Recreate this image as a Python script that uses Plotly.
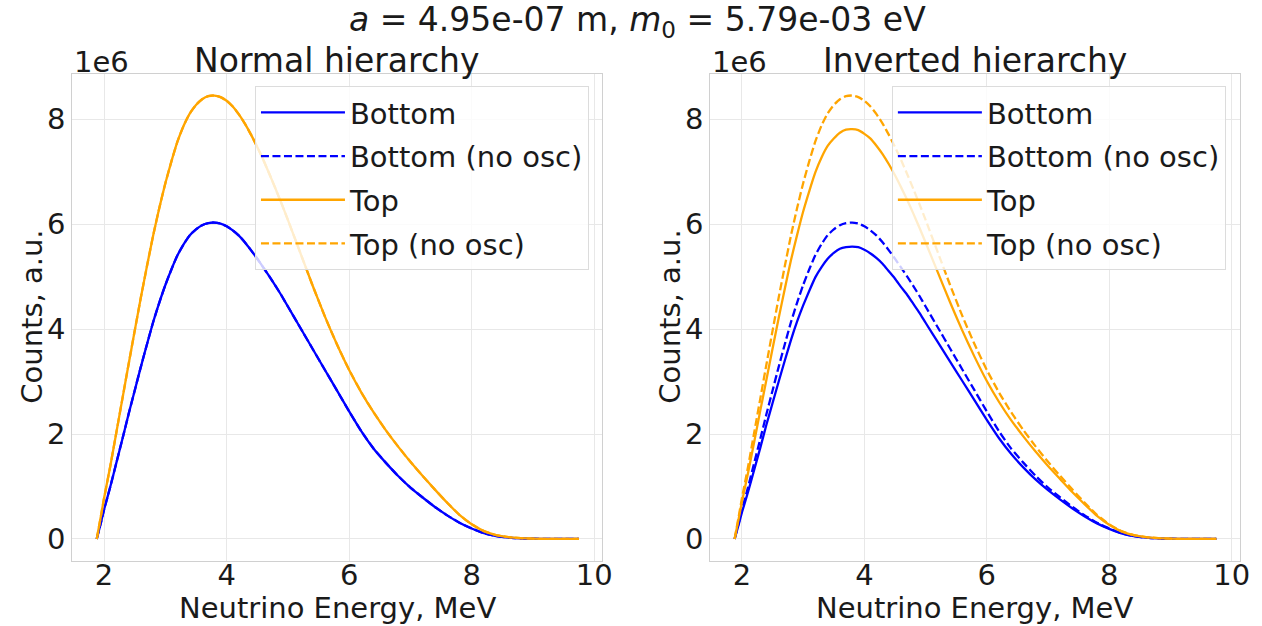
import plotly.graph_objects as go

# ---- data, counts in units of 1e6 ----
energy = [1.88, 1.95, 2.0,
          2.1, 2.2, 2.3, 2.4, 2.5, 2.6, 2.7, 2.8, 2.9, 3.0,
          3.1, 3.2, 3.3, 3.4, 3.5, 3.6, 3.7, 3.8, 3.9, 4.0,
          4.1, 4.2, 4.3, 4.4, 4.5, 4.6, 4.7, 4.8, 4.9, 5.0,
          5.2, 5.4, 5.6, 5.8, 6.0, 6.2, 6.4, 6.6, 6.8, 7.0,
          7.2, 7.4, 7.6, 7.8, 8.0, 8.2, 8.4, 8.6, 8.8, 9.0,
          9.25, 9.5, 9.75]

# no-oscillation spectra (same in both panels)
top_noosc = [0, 0.45, 0.78,
             1.38, 2.03, 2.68, 3.33, 3.97, 4.6, 5.2, 5.78, 6.3, 6.78,
             7.2, 7.58, 7.88, 8.11, 8.27, 8.38, 8.44, 8.45, 8.42, 8.35,
             8.24, 8.09, 7.91, 7.7, 7.47, 7.22, 6.95, 6.67, 6.38, 6.08,
             5.46, 4.84, 4.25, 3.71, 3.22, 2.79, 2.41, 2.07, 1.76, 1.47,
             1.2, 0.94, 0.69, 0.46, 0.28, 0.15, 0.075, 0.035, 0.015, 0.005,
             0.001, 0, 0]
bottom_noosc = [0, 0.32, 0.56,
                0.99, 1.45, 1.91, 2.38, 2.83, 3.28, 3.71, 4.13, 4.5, 4.84,
                5.14, 5.41, 5.62, 5.79, 5.9, 5.98, 6.02, 6.03, 6.01, 5.96,
                5.88, 5.78, 5.65, 5.5, 5.34, 5.17, 5.0, 4.82, 4.63, 4.43,
                4.03, 3.63, 3.23, 2.83, 2.43, 2.05, 1.72, 1.45, 1.2, 0.98,
                0.79, 0.61, 0.45, 0.31, 0.2, 0.11, 0.055, 0.025, 0.01, 0.004,
                0.001, 0, 0]

# normal hierarchy, oscillated (indistinguishable from no-osc in the picture)
nh_top = [0, 0.45, 0.78,
          1.38, 2.03, 2.68, 3.33, 3.97, 4.6, 5.2, 5.78, 6.3, 6.78,
          7.2, 7.58, 7.88, 8.11, 8.27, 8.38, 8.44, 8.45, 8.42, 8.35,
          8.24, 8.09, 7.91, 7.7, 7.47, 7.22, 6.95, 6.67, 6.38, 6.08,
          5.46, 4.84, 4.25, 3.71, 3.22, 2.79, 2.41, 2.07, 1.76, 1.47,
          1.2, 0.94, 0.69, 0.46, 0.28, 0.15, 0.075, 0.035, 0.015, 0.005,
          0.001, 0, 0]
nh_bottom = [0, 0.32, 0.56,
             0.99, 1.45, 1.91, 2.38, 2.83, 3.28, 3.71, 4.13, 4.5, 4.84,
             5.14, 5.41, 5.62, 5.79, 5.9, 5.98, 6.02, 6.03, 6.01, 5.96,
             5.88, 5.78, 5.65, 5.5, 5.34, 5.17, 5.0, 4.82, 4.63, 4.43,
             4.03, 3.63, 3.23, 2.83, 2.43, 2.05, 1.72, 1.45, 1.2, 0.98,
             0.79, 0.61, 0.45, 0.31, 0.2, 0.11, 0.055, 0.025, 0.01, 0.004,
             0.001, 0, 0]

# inverted hierarchy, oscillated
ih_top = [0, 0.41, 0.71,
          1.26, 1.85, 2.45, 3.04, 3.63, 4.21, 4.77, 5.31, 5.79, 6.24,
          6.63, 6.99, 7.27, 7.49, 7.63, 7.74, 7.8, 7.81, 7.79, 7.72,
          7.63, 7.49, 7.33, 7.14, 6.93, 6.7, 6.46, 6.2, 5.93, 5.65,
          5.08, 4.51, 3.97, 3.47, 3.01, 2.61, 2.26, 1.95, 1.66, 1.39,
          1.14, 0.89, 0.66, 0.44, 0.27, 0.144, 0.072, 0.034, 0.0146, 0.005,
          0.001, 0, 0]
ih_bottom = [0, 0.29, 0.51,
             0.9, 1.32, 1.74, 2.18, 2.59, 3.0, 3.4, 3.79, 4.14, 4.45,
             4.73, 4.99, 5.18, 5.34, 5.45, 5.53, 5.56, 5.57, 5.56, 5.51,
             5.44, 5.35, 5.24, 5.1, 4.96, 4.8, 4.65, 4.48, 4.31, 4.12,
             3.75, 3.38, 3.01, 2.64, 2.27, 1.92, 1.62, 1.36, 1.13, 0.93,
             0.75, 0.58, 0.43, 0.297, 0.192, 0.106, 0.053, 0.024, 0.0097, 0.0039,
             0.001, 0, 0]

scale = 1e6
y_ticks = [0, 2, 4, 6, 8]
x_ticks = [2, 4, 6, 8, 10]
panel_titles = ["Normal hierarchy", "Inverted hierarchy"]
suptitle = "<i>a</i> = 4.95e-07 m, <i>m</i><sub>0</sub> = 5.79e-03 eV"
x_label = "Neutrino Energy, MeV"
y_label = "Counts, a.u."
offset_label = "1e6"
names = ["Bottom", "Bottom (no osc)", "Top", "Top (no osc)"]

BLUE = "#0000ff"
ORANGE = "#ffa500"
FONT = "DejaVu Sans"
TXT = "#1a1a1a"
W, H = 1262, 626


def px_x(p):
    return p / W


def px_y(p):
    return (H - p) / H


fig = go.Figure()

panels = [
    (nh_bottom, bottom_noosc, nh_top, top_noosc, "x", "y", "legend", "L"),
    (ih_bottom, bottom_noosc, ih_top, top_noosc, "x2", "y2", "legend2", "R"),
]
DASH = "8px,3.5px"
for b, b0, t, t0, xa, ya, lg, tag in panels:
    series = [(b, BLUE, "solid"), (b0, BLUE, DASH),
              (t, ORANGE, "solid"), (t0, ORANGE, DASH)]
    for k, (name, (vals, col, dash)) in enumerate(zip(names, series)):
        fig.add_trace(go.Scatter(
            x=energy, y=[v * scale for v in vals], mode="lines", name=name,
            line=dict(color=col, width=2.3, dash=dash, shape="spline", smoothing=0.5),
            xaxis=xa, yaxis=ya, legend=lg, legendgroup=f"{tag}{k}"))

xdom = [[73 / W, 607 / W], [716 / W, 1249.5 / W]]
ydom = [px_y(561), px_y(73.5)]

axis_common = dict(
    showgrid=True, gridcolor="#e8e8e8", gridwidth=1,
    showline=True, mirror=True, linecolor="#d0d0d0", linewidth=1.2,
    zeroline=False, ticks="", tickfont=dict(family=FONT, size=29, color=TXT),
)
layout = dict(
    width=W, height=H, margin=dict(l=0, r=0, t=0, b=0),
    paper_bgcolor="white", plot_bgcolor="white",
    font=dict(family=FONT, color=TXT),
    showlegend=True,
)
for i, (xa, ya) in enumerate([("xaxis", "yaxis"), ("xaxis2", "yaxis2")]):
    anchor_y = "y" if i == 0 else "y2"
    anchor_x = "x" if i == 0 else "x2"
    layout[xa] = dict(domain=xdom[i], anchor=anchor_y, range=[1.483, 10.13],
                      tickvals=x_ticks, ticktext=[str(v) for v in x_ticks],
                      ticklabelstandoff=-12, **axis_common)
    layout[ya] = dict(domain=ydom, anchor=anchor_x, range=[-0.42 * scale, 8.87 * scale],
                      tickvals=[v * scale for v in y_ticks], ticktext=[str(v) for v in y_ticks],
                      ticklabelstandoff=0, **axis_common)

leg_common = dict(
    bgcolor="rgba(255,255,255,0.8)", bordercolor="#dcdcdc", borderwidth=1,
    font=dict(family=FONT, size=29, color=TXT), xanchor="left", yanchor="top",
    traceorder="grouped", itemwidth=84, tracegroupgap=3,
)
layout["legend"] = dict(x=px_x(257), y=px_y(86), **leg_common)
layout["legend2"] = dict(x=px_x(899), y=px_y(86), **leg_common)
fig.update_layout(**layout)

ann = []
ann.append(dict(text=suptitle, x=px_x(643), y=px_y(21), xref="paper", yref="paper",
                showarrow=False, xanchor="center", yanchor="middle", borderpad=0,
                font=dict(family=FONT, size=33, color=TXT)))
for i, cx in enumerate([340, 982.5]):
    ann.append(dict(text=panel_titles[i], x=px_x(cx), y=px_y(60), xref="paper", yref="paper",
                    showarrow=False, xanchor="center", yanchor="middle", borderpad=0,
                    font=dict(family=FONT, size=33, color=TXT)))
    ann.append(dict(text=x_label, x=px_x(cx), y=px_y(608), xref="paper", yref="paper",
                    showarrow=False, xanchor="center", yanchor="middle", borderpad=0,
                    font=dict(family=FONT, size=29, color=TXT)))
for lx in [32, 675]:
    ann.append(dict(text=y_label, x=px_x(lx), y=px_y(317), xref="paper", yref="paper",
                    showarrow=False, xanchor="center", yanchor="middle", textangle=-90,
                    borderpad=0, font=dict(family=FONT, size=29, color=TXT)))
for ox in [74, 717]:
    ann.append(dict(text=offset_label, x=px_x(ox), y=px_y(80), xref="paper", yref="paper",
                    showarrow=False, xanchor="left", yanchor="bottom", borderpad=0,
                    font=dict(family=FONT, size=29, color=TXT)))
fig.update_layout(annotations=ann)

# remove the browser's default 8px page margin so the figure fills the window exactly
fig.write_html(
    "out.html",
    config={"displayModeBar": False},
    post_script="document.body.style.margin='0px';"
                "document.documentElement.style.overflow='hidden';",
)
